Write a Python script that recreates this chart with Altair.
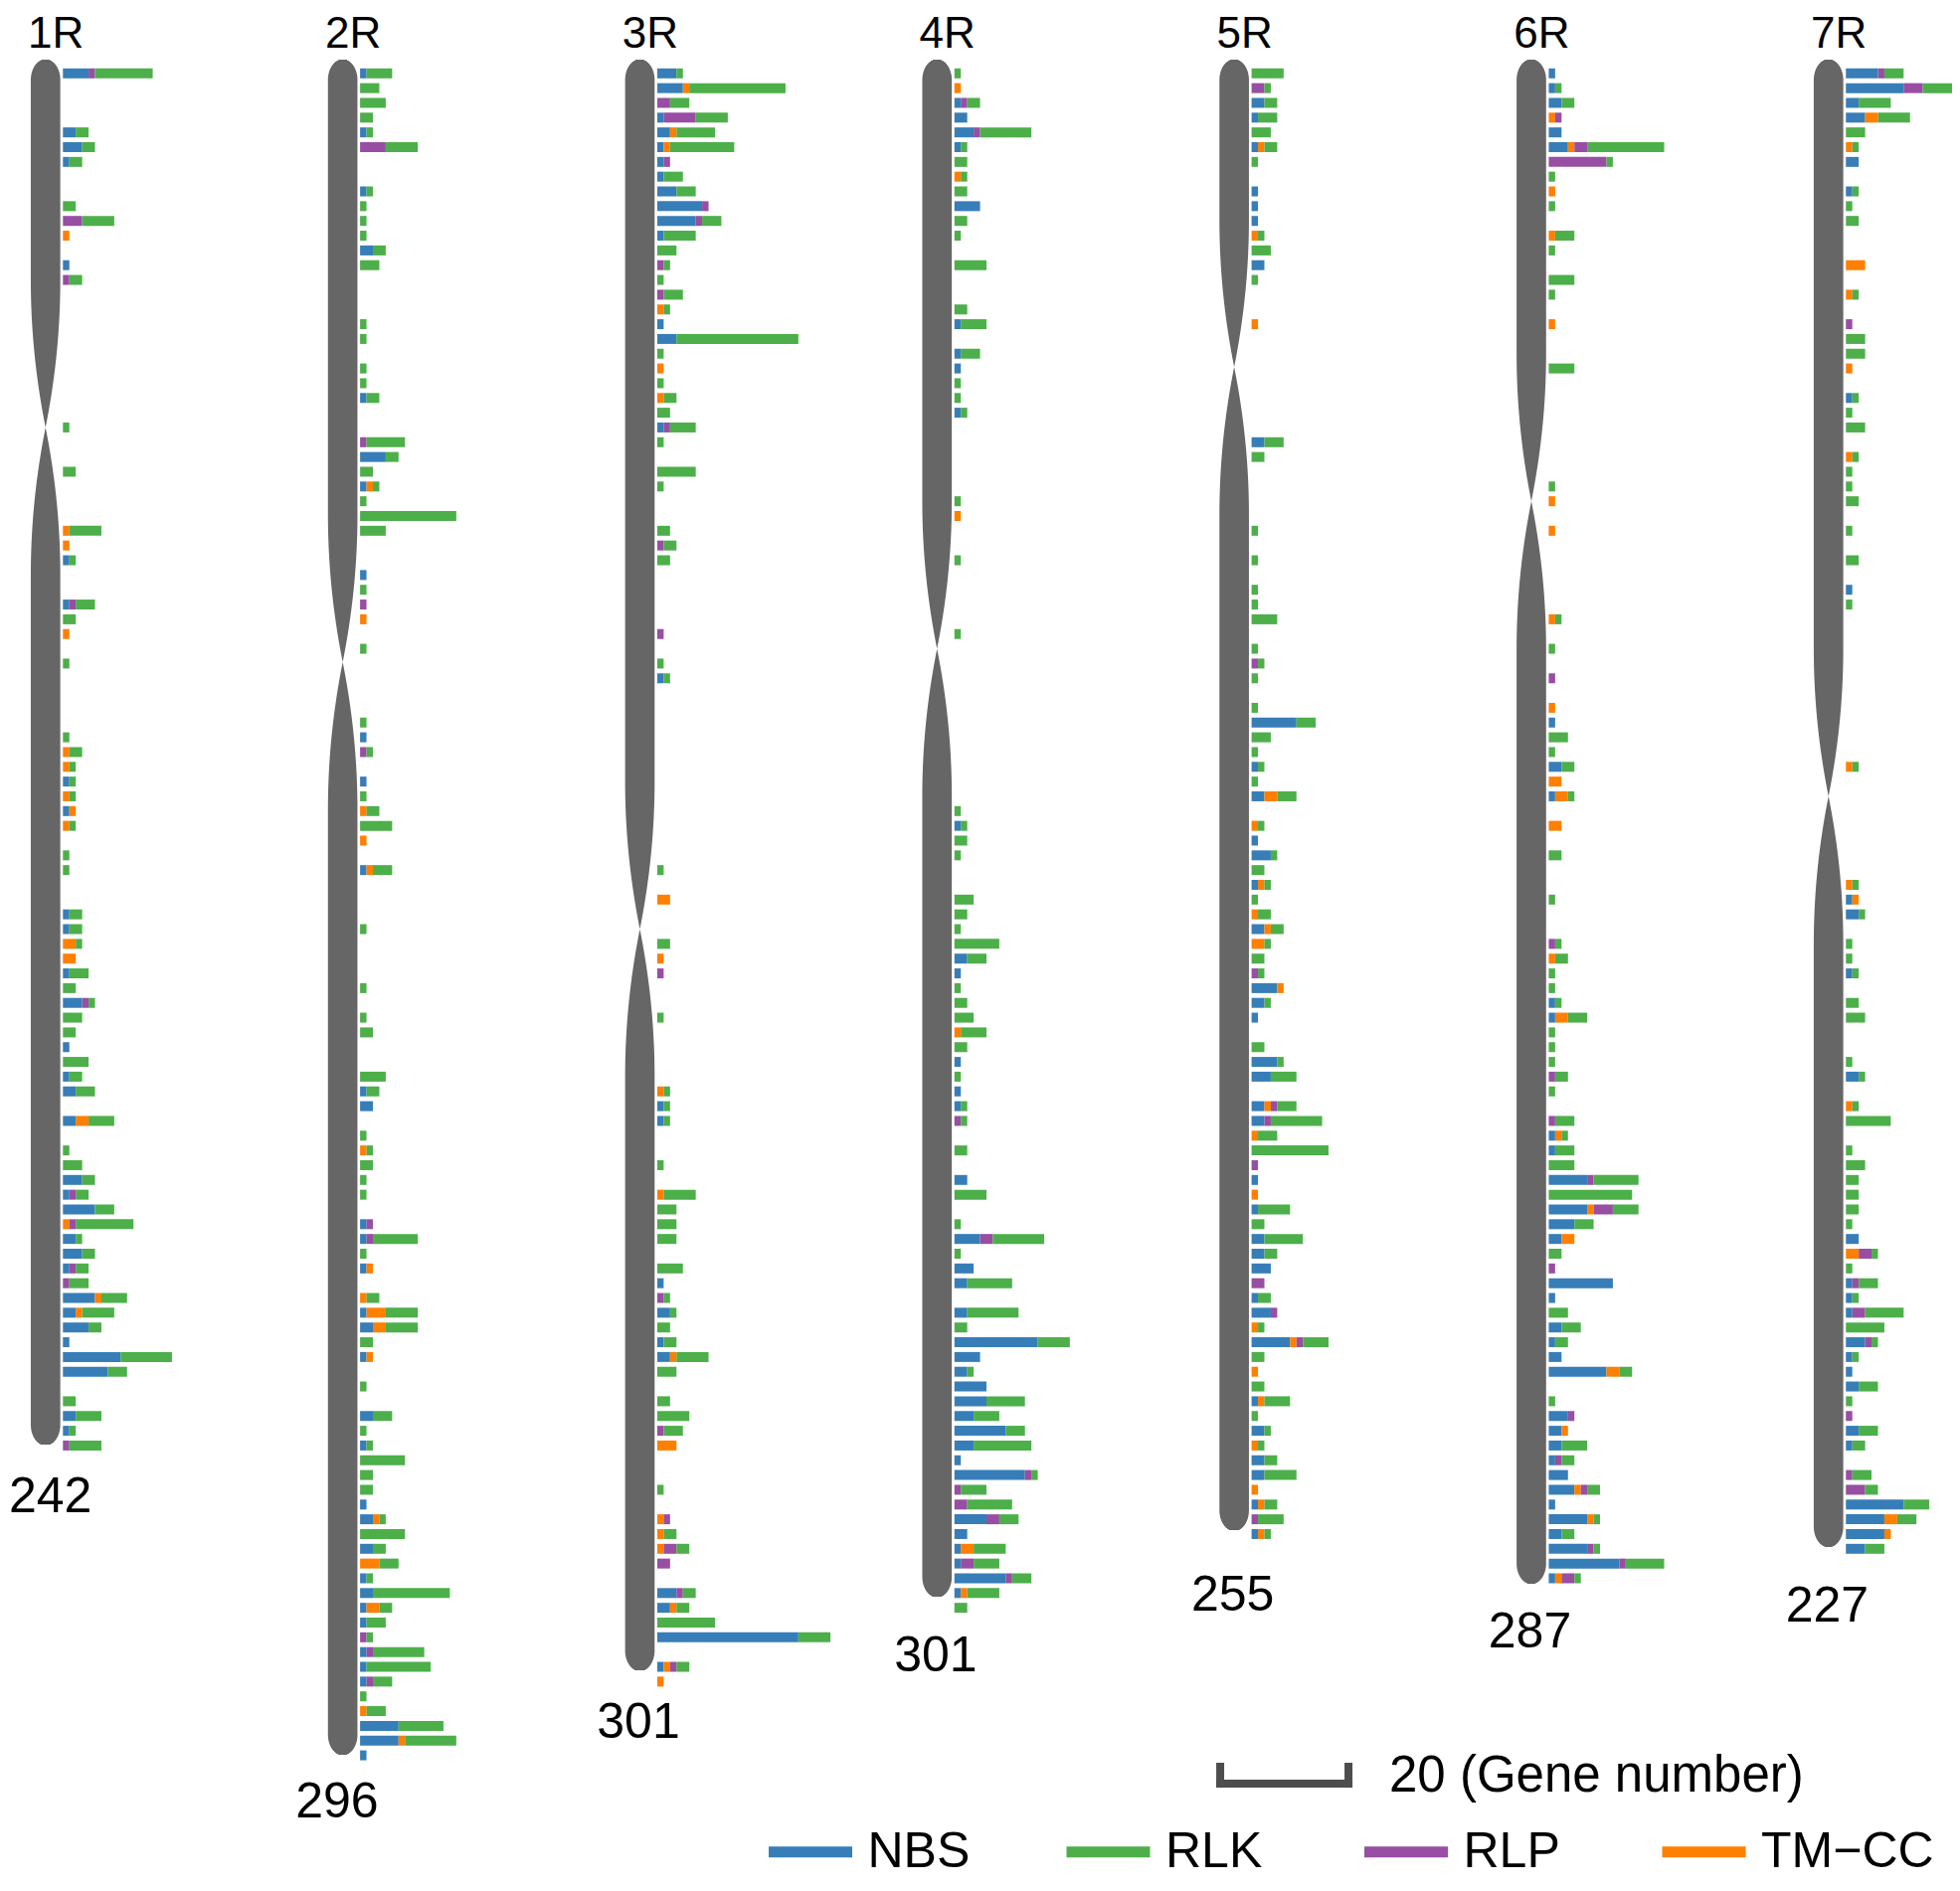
import numpy as np
import pandas as pd
import altair as alt

# ---------------- data ----------------
CHROMS = ["1R", "2R", "3R", "4R", "5R", "6R", "7R"]
TOTALS = [242, 296, 301, 301, 255, 287, 227]
# chromosome geometry in 10-Mb bins
CENTROMERE = [24.0, 39.9, 58.0, 39.0, 19.9, 29.0, 49.0]
CHR_END = [93.0, 114.0, 108.3, 103.3, 98.8, 102.4, 99.9]
CHR_START = -0.96

TYPES = ["NBS", "RLK", "RLP", "TM\u2212CC"]
STACK_ORDER = ["NBS", "TM\u2212CC", "RLP", "RLK"]
COLORS = ["#377EB8", "#4DAF4A", "#984EA3", "#FF7F00"]

# (bin, NBS, RLK, RLP, TM-CC)
R1 = [(0,4,9,1,0),(4,2,2,0,0),(5,3,2,0,0),(6,1,2,0,0),(9,0,2,0,0),(10,0,5,3,0),(11,0,0,0,1),
      (13,1,0,0,0),(14,0,2,1,0),(24,0,1,0,0),(27,0,2,0,0),(31,0,5,0,1),(32,0,0,0,1),(33,1,1,0,0),
      (36,1,3,1,0),(37,0,2,0,0),(38,0,0,0,1),(40,0,1,0,0),(45,0,1,0,0),(46,0,2,0,1),(47,0,1,0,1),
      (48,1,1,0,0),(49,0,1,0,1),(50,1,0,0,1),(51,0,1,0,1),(53,0,1,0,0),(54,0,1,0,0),(57,1,2,0,0),
      (58,1,2,0,0),(59,0,1,0,2),(60,0,0,0,2),(61,1,3,0,0),(62,0,2,0,0),(63,3,1,1,0),(64,0,3,0,0),
      (65,0,2,0,0),(66,1,0,0,0),(67,0,4,0,0),(68,1,2,0,0),(69,2,3,0,0),(71,2,4,0,2),(73,0,1,0,0),
      (74,0,3,0,0),(75,3,2,0,0),(76,1,2,1,0),(77,5,3,0,0),(78,0,9,1,1),(79,2,1,0,0),(80,3,2,0,0),
      (81,1,2,1,0),(82,0,3,1,0),(83,5,4,0,1),(84,2,5,0,1),(85,4,2,0,0),(86,1,0,0,0),(87,9,8,0,0),
      (88,7,3,0,0),(90,0,2,0,0),(91,2,4,0,0),(92,1,1,0,0),(93,0,5,1,0)]

R2 = [(0,1,4,0,0),(1,0,3,0,0),(2,0,4,0,0),(3,0,2,0,0),(4,1,1,0,0),(5,0,5,4,0),(8,1,1,0,0),
      (9,0,1,0,0),(10,0,1,0,0),(11,0,1,0,0),(12,2,2,0,0),(13,0,3,0,0),(17,0,1,0,0),(18,0,1,0,0),
      (20,0,1,0,0),(21,0,1,0,0),(22,1,2,0,0),(25,0,6,1,0),(26,4,2,0,0),(27,0,2,0,0),(28,1,1,0,1),
      (29,0,1,0,0),(30,0,15,0,0),(31,0,4,0,0),(34,1,0,0,0),(35,0,1,0,0),(36,0,0,1,0),(37,0,0,0,1),
      (39,0,1,0,0),(44,0,1,0,0),(45,1,0,0,0),(46,0,1,1,0),(48,1,0,0,0),(49,0,1,0,0),(50,0,2,0,1),
      (51,0,5,0,0),(52,0,0,0,1),(54,1,3,0,1),(58,0,1,0,0),(62,0,1,0,0),(64,0,1,0,0),(65,0,2,0,0),
      (68,0,4,0,0),(69,1,2,0,0),(70,2,0,0,0),(72,0,1,0,0),(73,0,1,0,1),(74,0,2,0,0),(75,0,1,0,0),
      (76,0,1,0,0),(78,1,0,1,0),(79,1,7,1,0),(80,0,1,0,0),(81,1,0,0,1),(83,0,2,0,1),(84,1,5,0,3),
      (85,2,5,0,2),(86,0,2,0,0),(87,1,0,0,1),(89,0,1,0,0),(91,2,3,0,0),(92,0,1,0,0),(93,1,1,0,0),
      (94,0,7,0,0),(95,0,2,0,0),(96,0,2,0,0),(97,1,0,0,0),(98,2,1,0,1),(99,0,7,0,0),(100,2,2,0,0),
      (101,0,3,0,3),(102,1,1,0,0),(103,2,12,0,0),(104,1,2,0,2),(105,1,3,0,0),(106,0,1,1,0),
      (107,1,8,1,0),(108,1,10,0,0),(109,1,3,1,0),(110,0,1,0,0),(111,0,3,0,1),(112,6,7,0,0),
      (113,6,8,0,1),(114,1,0,0,0)]

R3 = [(0,3,1,0,0),(1,4,15,0,1),(2,0,3,2,0),(3,1,5,5,0),(4,2,6,0,1),(5,1,10,0,1),(6,1,0,1,0),
      (7,1,3,0,0),(8,3,3,0,0),(9,7,0,1,0),(10,6,3,1,0),(11,1,5,0,0),(12,0,3,0,0),(13,0,1,1,0),
      (14,0,1,0,0),(15,0,3,1,0),(16,0,1,0,1),(17,1,0,0,0),(18,3,19,0,0),(19,0,1,0,0),(20,0,0,0,1),
      (21,0,1,0,0),(22,0,2,0,1),(23,0,2,0,0),(24,1,4,1,0),(25,0,1,0,0),(27,0,6,0,0),(28,0,1,0,0),
      (31,0,2,0,0),(32,0,2,1,0),(33,0,2,0,0),(38,0,0,1,0),(40,0,1,0,0),(41,1,1,0,0),(54,0,1,0,0),
      (56,0,0,0,2),(59,0,2,0,0),(60,0,0,0,1),(61,0,0,1,0),(64,0,1,0,0),(69,0,1,0,1),(70,1,1,0,0),
      (71,1,1,0,0),(74,0,1,0,0),(76,0,5,0,1),(77,0,3,0,0),(78,0,3,0,0),(79,0,3,0,0),(81,0,4,0,0),
      (82,1,0,0,0),(83,0,1,1,0),(84,2,1,0,0),(85,0,2,0,0),(86,1,2,0,0),(87,2,5,0,1),(88,0,3,0,0),
      (90,0,2,0,0),(91,0,5,0,0),(92,0,3,1,0),(93,0,0,0,3),(96,0,1,0,0),(98,0,0,1,1),(99,0,2,0,1),
      (100,0,2,2,1),(101,0,0,2,0),(103,3,2,1,0),(104,2,2,0,1),(105,0,9,0,0),(106,22,5,0,0),
      (108,1,2,1,1),(109,0,0,0,1)]

R4 = [(0,0,1,0,0),(1,0,0,0,1),(2,1,2,1,0),(3,2,0,0,0),(4,3,8,1,0),(5,1,1,0,0),(6,0,2,0,0),
      (7,0,1,0,1),(8,0,2,0,0),(9,4,0,0,0),(10,0,2,0,0),(11,0,1,0,0),(13,0,5,0,0),(16,0,2,0,0),
      (17,1,4,0,0),(19,1,3,0,0),(20,1,0,0,0),(21,0,1,0,0),(22,0,1,0,0),(23,1,1,0,0),(29,0,1,0,0),
      (30,0,0,0,1),(33,0,1,0,0),(38,0,1,0,0),(50,0,1,0,0),(51,1,1,0,0),(52,0,2,0,0),(53,0,1,0,0),
      (56,0,3,0,0),(57,0,2,0,0),(58,0,1,0,0),(59,0,7,0,0),(60,2,3,0,0),(61,1,0,0,0),(62,0,1,0,0),
      (63,0,2,0,0),(64,0,3,0,0),(65,0,4,0,1),(66,0,2,0,0),(67,1,0,0,0),(68,0,1,0,0),(69,1,0,0,0),
      (70,1,1,0,0),(71,0,1,1,0),(73,0,2,0,0),(75,2,0,0,0),(76,0,5,0,0),(78,0,1,0,0),(79,4,8,2,0),
      (80,0,1,0,0),(81,3,0,0,0),(82,2,7,0,0),(84,2,8,0,0),(85,0,2,0,0),(86,13,5,0,0),(87,4,0,0,0),
      (88,2,1,0,0),(89,5,0,0,0),(90,5,6,0,0),(91,3,4,0,0),(92,8,3,0,0),(93,3,9,0,0),(94,1,0,0,0),
      (95,11,1,1,0),(96,0,4,1,0),(97,0,7,2,0),(98,5,3,2,0),(99,2,0,0,0),(100,1,5,0,2),
      (101,1,4,2,0),(102,8,3,1,0),(103,1,5,0,1),(104,0,2,0,0)]

R5 = [(0,0,5,0,0),(1,0,1,2,0),(2,2,2,0,0),(3,1,3,0,0),(4,0,3,0,0),(5,1,2,0,1),(6,0,1,0,0),
      (8,1,0,0,0),(9,1,0,0,0),(10,1,0,0,0),(11,0,1,0,1),(12,0,3,0,0),(13,2,0,0,0),(14,0,1,0,0),
      (17,0,0,0,1),(25,2,3,0,0),(26,0,2,0,0),(31,0,1,0,0),(33,0,1,0,0),(35,0,1,0,0),(36,0,1,0,0),
      (37,0,4,0,0),(39,0,1,0,0),(40,0,1,1,0),(41,0,1,0,0),(43,0,1,0,0),(44,7,3,0,0),(45,0,3,0,0),
      (46,0,1,0,0),(47,1,1,0,0),(48,0,1,0,0),(49,2,3,0,2),(51,0,1,0,1),(52,1,0,0,0),(53,3,1,0,0),
      (54,0,2,0,0),(55,1,1,0,1),(56,0,1,0,0),(57,0,2,0,1),(58,2,2,0,1),(59,0,1,0,2),(60,0,2,0,0),
      (61,0,1,1,0),(62,4,0,0,1),(63,2,1,0,0),(64,1,0,0,0),(66,0,2,0,0),(67,4,1,0,0),(68,3,4,0,0),
      (70,2,3,1,1),(71,2,8,1,0),(72,0,3,0,1),(73,0,12,0,0),(74,0,0,1,0),(75,1,0,0,0),(76,0,0,0,1),
      (77,1,5,0,0),(78,0,2,0,0),(79,2,6,0,0),(80,2,2,0,0),(81,3,0,0,0),(82,0,0,2,0),(83,1,2,0,0),
      (84,3,0,1,0),(85,0,1,0,1),(86,6,4,1,1),(87,0,2,0,0),(88,0,0,0,1),(89,0,2,0,0),(90,1,4,0,1),
      (91,0,1,0,0),(92,2,1,0,0),(93,0,1,0,1),(94,2,2,0,0),(95,2,5,0,0),(96,0,0,0,1),(97,1,2,0,1),
      (98,0,4,1,0),(99,1,1,0,1)]

R6 = [(0,1,0,0,0),(1,1,1,0,0),(2,2,2,0,0),(3,0,0,1,1),(4,2,0,0,0),(5,3,12,2,1),(6,0,1,9,0),
      (7,0,1,0,0),(8,0,0,0,1),(9,0,1,0,0),(11,0,3,0,1),(12,0,1,0,0),(14,0,4,0,0),(15,0,1,0,0),
      (17,0,0,0,1),(20,0,4,0,0),(28,0,1,0,0),(29,0,0,0,1),(31,0,0,0,1),(37,0,1,0,1),(39,0,1,0,0),
      (41,0,0,1,0),(43,0,0,0,1),(44,1,0,0,0),(45,0,3,0,0),(46,0,1,0,0),(47,2,2,0,0),(48,0,0,0,2),
      (49,1,1,0,2),(51,0,0,0,2),(53,0,2,0,0),(56,0,1,0,0),(59,0,1,1,0),(60,0,2,0,1),(61,0,1,0,0),
      (62,0,1,0,0),(63,1,1,0,0),(64,1,3,0,2),(65,0,1,0,0),(66,0,1,0,0),(67,0,1,0,0),(68,0,2,1,0),
      (69,0,1,0,0),(71,0,3,1,0),(72,1,1,0,1),(73,1,3,0,0),(74,0,4,0,0),(75,6,7,1,0),(76,0,13,0,0),
      (77,6,4,3,1),(78,4,3,0,0),(79,2,0,0,2),(80,0,2,0,0),(81,0,0,1,0),(82,10,0,0,0),(83,1,0,0,0),
      (84,0,3,0,0),(85,2,3,0,0),(86,1,2,0,0),(87,2,0,0,0),(88,9,2,0,2),(90,0,1,0,0),(91,3,0,1,0),
      (92,2,0,0,1),(93,2,4,0,0),(94,1,2,1,0),(95,3,0,0,0),(96,4,2,1,1),(97,1,0,0,0),(98,6,1,0,1),
      (99,2,2,0,0),(100,6,1,1,0),(101,11,6,1,0),(102,1,1,2,1)]

R7 = [(0,5,3,1,0),(1,9,6,3,0),(2,2,5,0,0),(3,3,5,0,2),(4,0,3,0,0),(5,0,1,0,1),(6,2,0,0,0),
      (8,1,1,0,0),(9,0,1,0,0),(10,0,2,0,0),(13,0,0,0,3),(15,0,1,0,1),(17,0,0,1,0),(18,0,3,0,0),
      (19,0,3,0,0),(20,0,0,0,1),(22,1,1,0,0),(23,0,1,0,0),(24,0,3,0,0),(26,0,1,0,1),(27,0,1,0,0),
      (28,0,1,0,0),(29,0,2,0,0),(31,0,1,0,0),(33,0,2,0,0),(35,1,0,0,0),(36,0,1,0,0),(47,0,1,0,1),
      (55,0,1,0,1),(56,1,0,0,1),(57,2,1,0,0),(59,0,1,0,0),(60,0,1,0,0),(61,1,1,0,0),(63,0,2,0,0),
      (64,0,3,0,0),(67,0,1,0,0),(68,2,1,0,0),(70,0,1,0,1),(71,0,7,0,0),(73,0,1,0,0),(74,0,3,0,0),
      (75,0,2,0,0),(76,0,2,0,0),(77,0,2,0,0),(78,0,1,0,0),(79,2,0,0,0),(80,0,1,2,2),(81,0,1,0,0),
      (82,1,3,1,0),(83,1,1,0,0),(84,1,6,2,0),(85,0,6,0,0),(86,3,1,1,0),(87,1,1,0,0),(88,1,0,0,0),
      (89,2,3,0,0),(90,0,1,0,0),(91,0,0,1,0),(92,2,3,0,0),(93,1,2,0,0),(95,0,3,1,0),(96,0,2,3,0),
      (97,9,4,0,0),(98,6,3,0,2),(99,6,0,0,1),(100,3,3,0,0)]

BINS = [R1, R2, R3, R4, R5, R6, R7]
SCALE_GENES = 20

# ---------------- layout ----------------
W, H = 1955, 1886
PX_PER_GENE = 6.45
PX_PER_BIN = 14.84
X_MAX = W / PX_PER_GENE
Y_MIN = -4.434
Y_MAX = Y_MIN + H / PX_PER_BIN
FIRST_OFFSET, PANEL = 8.57, 46.33
HALF_W, CENTER_SHIFT, TAPER, CAP = 2.3, 2.71, 10.0, 1.4
FONT = "Liberation Sans"
TITLE_Y = -2.6
TOTAL_LABEL_Y = [96.52, 117.19, 111.79, 107.29, 103.19, 105.69, 103.89]
TOTAL_LABEL_DX = [-1.95, -3.6, -2.93, -2.93, -2.93, -2.93, -2.93]

xs = alt.Scale(domain=[0, X_MAX], nice=False, zero=False)
ys = alt.Scale(domain=[Y_MIN, Y_MAX], nice=False, zero=False, reverse=True)

# stacked bar segments
rows = []
for ci, (name, data) in enumerate(zip(CHROMS, BINS)):
    off = FIRST_OFFSET + PANEL * ci
    for (b, nbs, rlk, rlp, tm) in data:
        counts = {"NBS": nbs, "RLK": rlk, "RLP": rlp, "TM\u2212CC": tm}
        cum = 0
        for t in STACK_ORDER:
            n = counts[t]
            if n:
                rows.append(dict(chrom=name, bin=b, type=t, n=n,
                                 x0=off + cum, x1=off + cum + n))
                cum += n
bars = pd.DataFrame(rows)


def half_width(y, cen, end):
    d = min(abs(y - cen) / TAPER, 1.0)
    f = 1 - (1 - d) ** 2
    g = 1.0
    dt, db = y - CHR_START, end - y
    if dt < CAP:
        g = np.sqrt(max(0.0, 1 - ((CAP - dt) / CAP) ** 2))
    if db < CAP:
        g = min(g, np.sqrt(max(0.0, 1 - ((CAP - db) / CAP) ** 2)))
    return HALF_W * f * g


# chromosome bodies as one-pixel-tall slices aligned to the pixel grid
px_step = 1.0 / PX_PER_BIN
shape_rows = []
for ci, name in enumerate(CHROMS):
    c = FIRST_OFFSET + PANEL * ci - CENTER_SHIFT
    cen, end = CENTROMERE[ci], CHR_END[ci]
    k0 = int(np.ceil((CHR_START - Y_MIN) * PX_PER_BIN))
    k1 = int(np.floor((end - Y_MIN) * PX_PER_BIN))
    for k in range(k0, k1):
        y0 = Y_MIN + k * px_step
        y1 = Y_MIN + (k + 1) * px_step
        hw = half_width(0.5 * (y0 + y1), cen, end)
        if hw <= 0:
            continue
        shape_rows.append(dict(chrom=name, y0=y0, y1=y1, xl=c - hw, xr=c + hw))
shapes = pd.DataFrame(shape_rows)

titles = pd.DataFrame(dict(label=CHROMS,
                           x=[FIRST_OFFSET + PANEL * i - 1.09 for i in range(7)],
                           y=[TITLE_Y] * 7))
totals = pd.DataFrame(dict(label=[str(t) for t in TOTALS],
                           x=[FIRST_OFFSET + PANEL * i + TOTAL_LABEL_DX[i] for i in range(7)],
                           y=TOTAL_LABEL_Y))

SB_X = 189.0
sb = pd.DataFrame(dict(x=[SB_X, SB_X, SB_X + SCALE_GENES],
                       x2=[SB_X + SCALE_GENES, SB_X, SB_X + SCALE_GENES],
                       y=[115.92, 114.77, 114.77],
                       y2=[115.92, 115.92, 115.92]))
sb_text = pd.DataFrame(dict(label=[f"{SCALE_GENES} (Gene number)"], x=[215.35], y=[116.43]))

# ---------------- chart ----------------
chrom_layer = alt.Chart(shapes).mark_rect(color="#666666", strokeWidth=0, opacity=1).encode(
    y=alt.Y("y0:Q", scale=ys, axis=None),
    y2="y1:Q",
    x=alt.X("xl:Q", scale=xs, axis=None),
    x2="xr:Q",
)

bar_layer = alt.Chart(bars).mark_rule(strokeWidth=10, strokeCap="butt", clip=True, opacity=1).encode(
    y=alt.Y("bin:Q", scale=ys, axis=None),
    x=alt.X("x0:Q", scale=xs, axis=None),
    x2="x1:Q",
    color=alt.Color("type:N", scale=alt.Scale(domain=TYPES, range=COLORS),
                    legend=alt.Legend(title=None, orient="none", legendX=759.5, legendY=1807,
                                      direction="horizontal", symbolType="stroke",
                                      symbolSize=7056, symbolStrokeWidth=11,
                                      labelFontSize=50, labelFont=FONT, labelColor="black",
                                      labelOffset=10, columnPadding=3.5, gridAlign="all",
                                      padding=0, labelLimit=400)),
)

title_layer = alt.Chart(titles).mark_text(font=FONT, fontSize=44, color="black",
                                          align="center", baseline="middle").encode(
    x=alt.X("x:Q", scale=xs, axis=None), y=alt.Y("y:Q", scale=ys, axis=None), text="label:N")

total_layer = alt.Chart(totals).mark_text(font=FONT, fontSize=50, color="black",
                                          align="center", baseline="middle").encode(
    x=alt.X("x:Q", scale=xs, axis=None), y=alt.Y("y:Q", scale=ys, axis=None), text="label:N")

sb_layer = alt.Chart(sb).mark_rule(strokeWidth=8, color="#4D4D4D", strokeCap="square").encode(
    x=alt.X("x:Q", scale=xs, axis=None), x2="x2:Q",
    y=alt.Y("y:Q", scale=ys, axis=None), y2="y2:Q")

sb_text_layer = alt.Chart(sb_text).mark_text(font=FONT, fontSize=51, color="black",
                                             align="left", baseline="alphabetic").encode(
    x=alt.X("x:Q", scale=xs, axis=None), y=alt.Y("y:Q", scale=ys, axis=None), text="label:N")

chart = alt.layer(chrom_layer, bar_layer, title_layer, total_layer, sb_layer, sb_text_layer).properties(
    width=W, height=H, padding=0,
    autosize=alt.AutoSizeParams(type="none"),
).configure_view(stroke=None)

chart.save("out.html", embed_options={"renderer": "svg", "actions": False})
